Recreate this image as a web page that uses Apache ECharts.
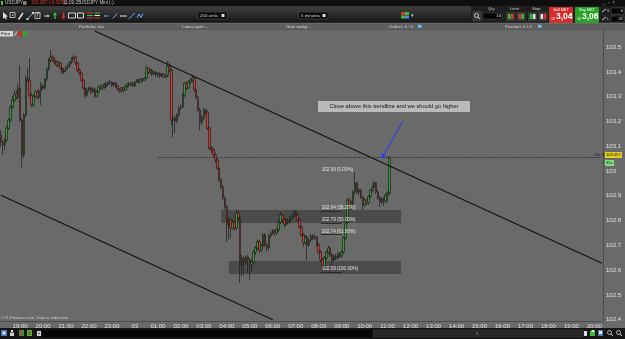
<!DOCTYPE html>
<html><head><meta charset="utf-8">
<script src="https://cdn.jsdelivr.net/npm/echarts@6/dist/echarts.min.js"></script>
<style>html,body{margin:0;padding:0;background:#6a6a6a;overflow:hidden}#c{width:625px;height:339px}</style>
</head><body><div id="c"></div>
<script>
// ---- data (USD/JPY, 5-minute candles) ----
const opens = [103.145,103.117,103.105,103.125,103.173,103.206,103.258,103.286,103.310,103.298,
103.335,103.206,103.065,103.226,103.375,103.367,103.306,103.266,103.302,103.319,
103.298,103.323,103.343,103.335,103.371,103.411,103.448,103.460,103.448,103.440,
103.427,103.436,103.415,103.399,103.407,103.419,103.427,103.440,103.456,103.460,
103.436,103.407,103.395,103.367,103.335,103.306,103.327,103.335,103.319,103.331,
103.302,103.319,103.339,103.335,103.347,103.339,103.351,103.355,103.359,103.347,
103.355,103.343,103.331,103.323,103.335,103.327,103.343,103.351,103.347,103.355,
103.343,103.359,103.367,103.359,103.371,103.367,103.375,103.415,103.399,103.407,
103.391,103.399,103.387,103.395,103.383,103.391,103.379,103.387,103.423,103.407,
103.206,103.214,103.202,103.226,103.254,103.258,103.306,103.355,103.335,103.359,
103.367,103.375,103.327,103.298,103.246,103.198,103.214,103.246,103.238,103.173,
103.093,103.085,103.065,103.044,103.012,102.964,102.935,102.891,102.855,102.782,
102.802,102.770,102.794,102.770,102.831,102.811,102.621,102.649,102.633,102.653,
102.641,102.621,102.633,102.673,102.690,102.714,102.681,102.698,102.742,102.702,
102.690,102.738,102.750,102.758,102.750,102.762,102.794,102.823,102.802,102.786,
102.802,102.794,102.811,102.819,102.835,102.823,102.802,102.774,102.742,102.710,
102.734,102.702,102.722,102.738,102.730,102.734,102.702,102.673,102.641,102.617,
102.649,102.673,102.690,102.661,102.641,102.657,102.649,102.665,102.657,102.673,
102.730,102.794,102.883,102.851,102.871,102.915,102.952,102.915,102.923,102.895,
102.863,102.883,102.871,102.899,102.923,102.935,102.952,102.915,102.891,102.875,
102.887,102.879,102.903,102.911];
const closes = [103.117,103.105,103.125,103.173,103.206,103.258,103.286,103.310,103.298,103.335,
103.206,103.065,103.226,103.375,103.367,103.306,103.266,103.302,103.319,103.298,
103.323,103.343,103.335,103.371,103.411,103.448,103.460,103.448,103.440,103.427,
103.436,103.415,103.399,103.407,103.419,103.427,103.440,103.456,103.460,103.436,
103.407,103.395,103.367,103.335,103.306,103.327,103.335,103.319,103.331,103.302,
103.319,103.339,103.335,103.347,103.339,103.351,103.355,103.359,103.347,103.355,
103.343,103.331,103.323,103.335,103.327,103.343,103.351,103.347,103.355,103.343,
103.359,103.367,103.359,103.371,103.367,103.375,103.415,103.399,103.407,103.391,
103.399,103.387,103.395,103.383,103.391,103.379,103.387,103.423,103.407,103.206,
103.214,103.202,103.226,103.254,103.258,103.306,103.355,103.335,103.359,103.367,
103.375,103.327,103.298,103.246,103.198,103.214,103.246,103.238,103.173,103.093,
103.085,103.065,103.044,103.012,102.964,102.935,102.891,102.855,102.782,102.802,
102.770,102.794,102.770,102.831,102.811,102.621,102.649,102.633,102.653,102.641,
102.621,102.633,102.673,102.690,102.714,102.681,102.698,102.742,102.702,102.690,
102.738,102.750,102.758,102.750,102.762,102.794,102.823,102.802,102.786,102.802,
102.794,102.811,102.819,102.835,102.823,102.802,102.774,102.742,102.710,102.734,
102.702,102.722,102.738,102.730,102.734,102.702,102.673,102.641,102.617,102.649,
102.673,102.690,102.661,102.641,102.657,102.649,102.665,102.657,102.673,102.730,
102.794,102.883,102.851,102.871,102.915,102.952,102.915,102.923,102.895,102.863,
102.883,102.871,102.899,102.923,102.935,102.952,102.915,102.891,102.875,102.887,
102.879,102.903,102.911,103.056];
const lows = [103.097,103.065,103.085,103.117,103.165,103.198,103.250,103.278,103.290,103.290,
103.198,103.016,103.052,103.218,103.359,103.298,103.258,103.258,103.294,103.290,
103.290,103.266,103.327,103.327,103.363,103.403,103.440,103.440,103.431,103.419,
103.419,103.407,103.391,103.391,103.399,103.411,103.419,103.431,103.448,103.427,
103.399,103.387,103.359,103.327,103.294,103.298,103.319,103.310,103.315,103.294,
103.298,103.315,103.327,103.327,103.331,103.335,103.343,103.347,103.339,103.339,
103.335,103.327,103.315,103.315,103.319,103.323,103.335,103.339,103.343,103.339,
103.339,103.355,103.351,103.355,103.359,103.363,103.371,103.391,103.391,103.383,
103.387,103.379,103.379,103.375,103.379,103.375,103.375,103.379,103.399,103.185,
103.137,103.153,103.194,103.218,103.246,103.254,103.298,103.327,103.331,103.351,
103.359,103.319,103.290,103.238,103.165,103.185,103.206,103.226,103.165,103.085,
103.073,103.056,103.032,103.004,102.956,102.927,102.883,102.843,102.714,102.722,
102.730,102.762,102.758,102.762,102.798,102.548,102.573,102.581,102.621,102.589,
102.560,102.593,102.625,102.661,102.681,102.669,102.673,102.690,102.694,102.673,
102.681,102.730,102.742,102.738,102.742,102.754,102.786,102.790,102.774,102.778,
102.782,102.786,102.802,102.811,102.815,102.794,102.766,102.734,102.694,102.702,
102.641,102.694,102.714,102.722,102.722,102.694,102.665,102.633,102.597,102.609,
102.641,102.665,102.653,102.609,102.633,102.641,102.641,102.649,102.649,102.665,
102.722,102.786,102.843,102.843,102.863,102.907,102.907,102.903,102.887,102.843,
102.855,102.863,102.863,102.891,102.915,102.927,102.907,102.883,102.855,102.867,
102.859,102.871,102.871,102.903];
const highs = [103.165,103.125,103.133,103.181,103.214,103.266,103.302,103.327,103.327,103.355,
103.427,103.214,103.234,103.387,103.415,103.456,103.315,103.310,103.327,103.327,
103.331,103.359,103.351,103.375,103.419,103.456,103.488,103.468,103.460,103.448,
103.444,103.440,103.423,103.415,103.423,103.436,103.444,103.460,103.468,103.464,
103.440,103.415,103.399,103.371,103.343,103.335,103.343,103.339,103.339,103.335,
103.327,103.347,103.347,103.351,103.355,103.359,103.363,103.367,103.363,103.359,
103.359,103.347,103.335,103.339,103.339,103.347,103.355,103.359,103.359,103.359,
103.363,103.371,103.371,103.375,103.375,103.379,103.427,103.419,103.411,103.411,
103.403,103.403,103.399,103.399,103.395,103.395,103.391,103.444,103.440,103.415,
103.226,103.222,103.234,103.262,103.270,103.315,103.359,103.363,103.367,103.375,
103.387,103.379,103.335,103.302,103.254,103.226,103.254,103.254,103.242,103.177,
103.101,103.093,103.073,103.052,103.020,102.972,102.944,102.899,102.863,102.815,
102.811,102.806,102.802,102.843,102.839,102.819,102.661,102.657,102.661,102.661,
102.649,102.645,102.681,102.698,102.722,102.722,102.706,102.750,102.750,102.710,
102.746,102.758,102.766,102.766,102.770,102.802,102.835,102.827,102.811,102.811,
102.811,102.819,102.827,102.843,102.839,102.831,102.811,102.782,102.750,102.742,
102.738,102.730,102.746,102.746,102.742,102.738,102.710,102.681,102.649,102.657,
102.681,102.698,102.694,102.669,102.665,102.665,102.673,102.673,102.681,102.738,
102.802,102.891,102.891,102.879,102.923,102.996,102.956,102.931,102.927,102.899,
102.891,102.887,102.903,102.927,102.944,102.960,102.956,102.923,102.899,102.895,
102.895,102.911,102.919,103.060];

const yTickValues = [102.4,102.5,102.6,102.7,102.8,102.9,103,103.1,103.2,103.3,103.4,103.5];
const dayLabel = '03';
// annotations: [categoryIndex, price]
const upperTrend = [[49, 103.565], [314, 102.628]];
const lowerTrend = [[0, 102.902], [142, 102.400]];
const closeLine = {from: 82, to: 314, price: 103.057};
const arrow = [[210, 103.202], [199, 103.052]];
const fibLevels = [102.99, 102.837, 102.79, 102.743, 102.59];
const fibTexts = ['102.99 (0.00%)','102.84 (38.20%)','102.79 (50.00%)','102.74 (61.80%)','102.59 (100.00%)'];
const fibLineShown = [false, true, true, true, true];
const fibRange = [167, 178];
const zones = [[115, 209, 102.843, 102.790], [119, 209, 102.637, 102.585]];

// categories: 5-minute slots from 18:10 (day 02) onwards
const times = [];
for (let i = 0; i < 315; i++) {
  const m = 18 * 60 + 10 + 5 * i;
  const d = m >= 1440 ? '03' : '02';
  const mm = m % 1440;
  times.push(d + ' ' + String(Math.floor(mm / 60)).padStart(2, '0') + ':' + String(mm % 60).padStart(2, '0'));
}
const candles = opens.map((o, i) => [o, closes[i], lows[i], highs[i]]);

const FF = 'Liberation Sans, Arial, sans-serif';
const G = [];
function rect(x, y, w, h, fill, extra) { G.push({type: 'rect', silent: true, z: 100, shape: Object.assign({x, y, width: w, height: h}, (extra && extra.r) ? {r: extra.r} : {}), style: Object.assign({fill}, extra && extra.style || {})}); }
function text(x, y, t, fill, size, extra) { G.push({type: 'text', silent: true, z: 102, x, y, style: Object.assign({text: t, fill, fontSize: size, fontFamily: FF, verticalAlign: 'middle'}, extra || {})}); }
function line(x1, y1, x2, y2, stroke, w) { G.push({type: 'line', silent: true, z: 101, shape: {x1, y1, x2, y2}, style: {stroke, lineWidth: w || 1}}); }
function poly(points, fill) { G.push({type: 'polygon', silent: true, z: 101, shape: {points}, style: {fill}}); }

// toolbar
rect(0, 0, 625, 23, {type: 'linear', x: 0, y: 0, x2: 0, y2: 1, colorStops: [{offset: 0, color: '#2a2a2a'}, {offset: 0.35, color: '#3c3c3c'}, {offset: 1, color: '#141414'}]});
rect(0, 0, 625, 6, '#0f0f0f');
rect(1, 1, 2, 4, '#3fd13f');
text(5, 3, 'USDJPY', '#c8c8c8', 4.6);
rect(23, 1.2, 3.5, 3.6, '#888');
text(31, 3, '103.057 (-0.32%)', '#e03a3a', 4.6);
text(63, 3, '11:09:25', '#c8c8c8', 4.6);
text(80, 3, 'USDJPY Mini (-)', '#c8c8c8', 4.6);
text(603, 3, '_  \u25ab  \u00d7', '#9a9a9a', 4.6);
// tool icons
poly([[3, 12], [3, 19], [4.6, 17.4], [6, 19.6], [7, 19], [5.8, 16.8], [8, 16.6]], '#e0e0e0');
rect(10, 12.5, 5, 5, 'none', {style: {stroke: '#dcdcdc', lineWidth: 0.8}}); rect(12, 14.5, 1.2, 1.2, '#dcdcdc');
line(18.5, 19.5, 23, 13, '#e8e8e8', 1.4);
line(27.5, 19, 33, 13, '#7fb0ff', 0.9); rect(26.5, 18, 2, 2, '#e8e8e8'); rect(32, 12, 2, 2, '#e8e8e8');
rect(35, 12.5, 5, 6, 'none', {style: {stroke: '#dcdcdc', lineWidth: 0.8}}); text(36.2, 15.6, 'T', '#e8e8e8', 4.5);
line(44, 16, 49, 16, '#e0e0e0', 0.9); poly([[49.5, 16], [47.5, 14.6], [47.5, 17.4]], '#e0e0e0');
poly([[55, 12], [53, 15], [54.3, 15], [54.3, 19], [55.7, 19], [55.7, 15], [57, 15]], '#2fc52f');
poly([[63.5, 19.5], [61.5, 16.5], [62.8, 16.5], [62.8, 12.5], [64.2, 12.5], [64.2, 16.5], [65.5, 16.5]], '#e23030');
rect(68.5, 13, 7, 5, 'none', {style: {stroke: '#e8e8e8', lineWidth: 0.9}});
rect(77.5, 13, 6, 5, 'none', {style: {stroke: '#e8e8e8', lineWidth: 0.9}});
line(87, 13, 93, 13, '#e23030', 1); line(87, 15.5, 93, 15.5, '#2fc52f', 1); line(87, 18, 93, 18, '#e23030', 1);
line(94.5, 13, 100, 13, '#2fc52f', 1); line(94.5, 15.5, 100, 15.5, '#e8e8e8', 1); line(94.5, 18, 100, 18, '#e23030', 1);
line(104, 16, 108.5, 16, '#6fa8ff', 1.1);
line(112.5, 18.5, 117.5, 13.5, '#6fa8ff', 1);
line(120, 16, 127, 16, '#e8e8e8', 1);
line(128.5, 19, 135, 13, '#6fa8ff', 1);
G.push({type: 'polyline', silent: true, z: 101, shape: {points: [[137, 18], [139, 14], [141, 17.5], [143, 13.5]]}, style: {stroke: '#6fa8ff', lineWidth: 1, fill: 'none'}});
// dropdowns
rect(198, 12, 29, 7, '#0b0b0b', {style: {stroke: '#4a4a4a', lineWidth: 0.6}}); text(200, 15.6, '200 units', '#d8d8d8', 4.4); rect(221.5, 14, 3, 3, '#e0e0e0');
rect(299, 12, 29, 7, '#0b0b0b', {style: {stroke: '#4a4a4a', lineWidth: 0.6}}); text(301, 15.6, '5 minutes', '#d8d8d8', 4.4); rect(322.5, 14, 3, 3, '#e0e0e0');
rect(401, 12, 4, 3, '#e23030'); rect(405, 12, 4, 3, '#2fc52f'); rect(401, 15.5, 4, 3, '#2fc52f'); rect(405, 15.5, 4, 3, '#4f7fff'); text(410.5, 15.5, '\u25be', '#dcdcdc', 4.5);
// trade panel
rect(471, 6, 154, 17.5, '#1f1f1f');
rect(472.5, 11, 9, 10, '#3a3a3a'); G.push({type: 'circle', silent: true, z: 102, shape: {cx: 476.5, cy: 15.5, r: 2}, style: {stroke: '#e0e0e0', fill: 'none', lineWidth: 0.8}}); line(478, 17, 480, 19, '#e0e0e0', 0.9);
text(488, 9, 'Qty', '#cfcfcf', 4.2);
rect(483, 13, 19, 6, '#050505', {style: {stroke: '#555', lineWidth: 0.5}}); text(501, 16, '10', '#e8e8e8', 4.2, {align: 'right'});
text(510, 9, 'Limit', '#cfcfcf', 4.2);
rect(506, 12, 9, 9, '#3a3a3a'); rect(508, 14, 2.5, 5, '#2fc52f'); rect(511, 14, 2.5, 5, '#e23030');
rect(516.5, 12, 9, 9, '#3a3a3a'); rect(518.5, 14, 2.5, 5, '#e23030'); rect(521.5, 14, 2.5, 5, '#2fc52f');
text(532, 9, 'Stop', '#cfcfcf', 4.2);
rect(528, 12, 9, 9, '#3a3a3a'); rect(530, 14, 2.5, 5, '#2fc52f'); rect(533, 14, 2.5, 5, '#dcdcdc');
rect(538.5, 12, 9, 9, '#3a3a3a'); rect(540.5, 14, 2.5, 5, '#dcdcdc'); rect(543.5, 14, 2.5, 5, '#e23030');
rect(549, 7, 24, 16, '#d42b2b', {r: 1});
text(561, 9.5, 'Sell MKT', '#ffffff', 3.8, {align: 'center'});
text(551, 18.5, '10', '#ffffff', 3.6); text(556, 17, '3,04', '#ffffff', 8.5, {fontWeight: 'bold'}); text(570, 14.5, '8', '#ffffff', 3.6);
rect(575, 7, 24, 16, '#27a327', {r: 1});
text(587, 9.5, 'Buy MKT', '#ffffff', 3.8, {align: 'center'});
text(577, 18.5, '10', '#ffffff', 3.6); text(582, 17, '3,06', '#ffffff', 8.5, {fontWeight: 'bold'}); text(596, 14.5, '6', '#ffffff', 3.6);
line(602, 12, 606, 9, '#e0e0e0', 0.9); text(607, 11, 'S', '#cfcfcf', 3.5);
line(602, 20, 606, 17, '#e0e0e0', 0.9); text(607, 19.5, 'L', '#cfcfcf', 3.5);
rect(611, 8, 13, 6, '#050505', {style: {stroke: '#555', lineWidth: 0.5}}); text(623, 11, '0', '#e0e0e0', 4, {align: 'right'});
rect(611, 16, 13, 6, '#050505', {style: {stroke: '#555', lineWidth: 0.5}}); text(623, 19, '32', '#e0e0e0', 4, {align: 'right'});
// header row
rect(0, 23, 625, 6.5, '#5e5e5e');
line(0, 23.2, 625, 23.2, '#7a7a7a', 0.6);
line(0, 29.5, 625, 29.5, '#4e4e4e', 0.6);
text(79, 26.4, 'Portfolio: n/a', '#d4d4d4', 4.4);
text(182, 26.4, 'Latest gain: -', '#d4d4d4', 4.4);
text(286, 26.4, 'Gain today: -', '#d4d4d4', 4.4);
text(389, 26.4, 'Orders: 0 / 0', '#d4d4d4', 4.4); rect(418, 24.8, 3.5, 3, '#6fb6ff');
text(505, 26.4, 'Position: 0 / 0', '#d4d4d4', 4.4); rect(538, 24.8, 3.5, 3, '#6fb6ff');
// price badge
rect(0, 31, 13, 5.5, '#d4d4d4'); text(1, 33.8, 'Price', '#111', 4);
line(14, 36, 17, 31.5, '#e0e0e0', 0.9);
rect(18, 31, 4, 5.5, '#c92a2a'); rect(22.8, 31, 4, 5.5, '#2aa52a');
// bottom bar
rect(0, 328, 625, 11, '#151515');
rect(1, 330, 6, 6, '#4a78c8'); rect(2.5, 331.5, 3, 3, '#dcdcdc');
rect(11, 330, 2, 2, '#e0e0e0'); rect(10, 332.5, 4, 3.5, '#d0d0d0');
rect(19, 330, 5, 6, '#3c8c3c'); rect(20, 331, 1.5, 4, '#e23030');
rect(27, 330, 5, 6, '#2fc52f'); rect(28.5, 331, 2, 4, '#e23030');
rect(37, 331, 4, 5, '#d8d8d8'); rect(38.5, 332.5, 1, 2, '#222');
rect(42, 330, 331, 7, '#050505');
rect(373, 330, 210, 7, '#262626', {style: {stroke: '#3a3a3a', lineWidth: 0.6}}); rect(476.5, 332.5, 1.5, 2, '#777');
rect(584, 331, 3, 5, '#dcdcdc');
rect(590, 331, 5, 5, '#2fc52f'); rect(591.5, 330, 3, 2, '#e8e8e8');
rect(598, 330, 5, 6, '#4a78c8'); rect(599, 331, 3, 3, '#e8e8e8');
G.push({type: 'circle', silent: true, z: 102, shape: {cx: 609.5, cy: 332.5, r: 2}, style: {stroke: '#e0e0e0', fill: 'none', lineWidth: 0.8}}); line(611, 334, 613, 336, '#e0e0e0', 0.9);
G.push({type: 'circle', silent: true, z: 102, shape: {cx: 618.5, cy: 332.5, r: 2}, style: {stroke: '#e0e0e0', fill: 'none', lineWidth: 0.8}}); line(620, 334, 622, 336, '#e0e0e0', 0.9);
// footer note
text(1, 317.5, '\u00a9 IT-Finance.com. Data is indicative', '#d0d0d0', 4.2);
// annotation box
rect(318, 101, 152, 11, '#bababa');
text(394, 106.6, 'Close above this trendline and we should go higher', '#111', 5.7, {align: 'center'});
// close label
text(594, 155, 'Clo D', '#1a1a1a', 4.2);
rect(605, 152, 17, 6, '#e3cd1f'); text(606, 155.1, '103.057', '#111', 4);
rect(605, 160, 9, 6, '#7fe07f'); text(606, 163.1, '35s', '#111', 4);

const chart = echarts.init(document.getElementById('c'), null, {renderer: 'canvas'});
chart.setOption({
  animation: false,
  backgroundColor: '#6a6a6a',
  grid: {left: 0, right: 22, top: 30, bottom: 18},
  xAxis: {
    type: 'category', data: times, boundaryGap: true,
    axisLine: {show: true, lineStyle: {color: '#4c4c4c', width: 1}},
    axisTick: {show: false},
    splitLine: {show: false},
    axisLabel: {
      interval: (i, v) => v.endsWith(':00'),
      formatter: v => (v.slice(3) === '00:00' ? dayLabel : v.slice(3)),
      fontSize: 6, color: '#e2e2e2', margin: 2.5, fontFamily: FF
    }
  },
  yAxis: {
    type: 'value', position: 'right', min: 102.395, max: 103.569,
    axisLine: {show: true, lineStyle: {color: '#4c4c4c', width: 1}},
    axisTick: {show: false},
    splitLine: {show: false},
    axisLabel: {customValues: yTickValues, fontSize: 6, color: '#e2e2e2', margin: 3, fontFamily: FF}
  },
  series: [{
    type: 'candlestick',
    data: candles,
    barWidth: 2,
    itemStyle: {color: '#33a033', color0: '#e03a2c', borderColor: '#1c1c1c', borderColor0: '#1c1c1c', borderWidth: 0.7},
    markArea: {
      silent: true,
      itemStyle: {color: 'rgba(38,38,38,0.45)'},
      data: zones.map(z => [{coord: [z[0], z[2]]}, {coord: [z[1], z[3]]}])
    },
    markLine: {
      silent: true,
      symbol: ['none', 'none'],
      animation: false,
      data: [
        [{coord: upperTrend[0], lineStyle: {color: '#111111', width: 1.1, type: 'solid'}, label: {show: false}}, {coord: upperTrend[1]}],
        [{coord: lowerTrend[0], lineStyle: {color: '#111111', width: 1.1, type: 'solid'}, label: {show: false}}, {coord: lowerTrend[1]}],
        [{coord: [closeLine.from, closeLine.price], lineStyle: {color: '#1e1e1e', width: 0.8, type: [1.5, 1.5]}, label: {show: false}}, {coord: [closeLine.to, closeLine.price]}],
        [{coord: arrow[0], symbol: 'none', lineStyle: {color: '#1f3cff', width: 1, type: 'solid'}, label: {show: false}}, {coord: arrow[1], symbol: 'arrow', symbolSize: 5}],
      ].concat(fibLevels.map((v, k) => [
        {coord: [fibRange[0], v], lineStyle: {color: fibLineShown[k] ? '#1e1e1e' : 'rgba(0,0,0,0)', width: 0.8, type: 'solid'},
         label: {show: true, position: 'insideStartTop', formatter: fibTexts[k], fontSize: 4.6, color: '#e6e6e6', distance: [1, 1], fontFamily: FF}},
        {coord: [fibRange[1], v]}
      ]))
    }
  }],
  graphic: G
});
</script></body></html>
